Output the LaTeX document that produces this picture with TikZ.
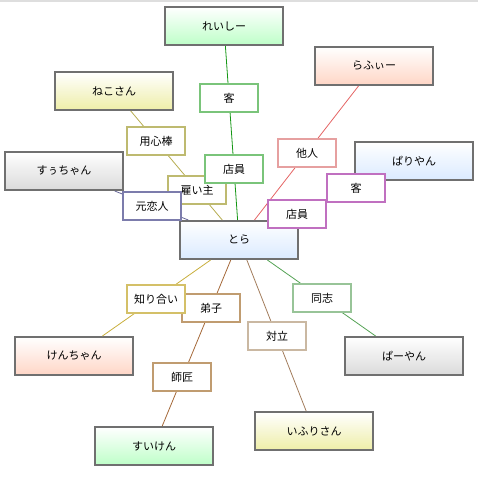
\documentclass[tikz,border=0pt]{standalone}
\usepackage{fontspec}
\setmainfont{Noto Sans CJK JP}
\usepackage{tikz}
\definecolor{BoxGray}{RGB}{112,112,112}
\definecolor{TopGray}{RGB}{222,222,222}
\definecolor{ShGreen}{RGB}{190,255,200}
\definecolor{ShPeach}{RGB}{255,214,198}
\definecolor{ShYellow}{RGB}{238,238,168}
\definecolor{ShGray}{RGB}{218,218,218}
\definecolor{ShBlue}{RGB}{218,234,255}
\definecolor{RelGreen}{RGB}{122,196,122}
\definecolor{RelOlive}{RGB}{190,186,112}
\definecolor{RelViolet}{RGB}{124,124,172}
\definecolor{RelRose}{RGB}{230,160,160}
\definecolor{RelMagenta}{RGB}{192,112,192}
\definecolor{RelGold}{RGB}{212,192,104}
\definecolor{RelBrown}{RGB}{192,156,112}
\definecolor{RelTan}{RGB}{202,184,162}
\definecolor{RelSage}{RGB}{152,196,152}
\definecolor{LnGreen}{RGB}{20,150,20}
\definecolor{LnRed}{RGB}{228,100,100}
\definecolor{LnOlive}{RGB}{182,172,80}
\definecolor{LnViolet}{RGB}{100,100,150}
\definecolor{LnMagenta}{RGB}{180,80,180}
\definecolor{LnGold}{RGB}{200,174,60}
\definecolor{LnBrown}{RGB}{164,104,56}
\definecolor{LnTan}{RGB}{162,124,92}
\definecolor{LnSage}{RGB}{84,162,84}

\begin{document}
\begin{tikzpicture}[x=1pt, y=-1pt,
    every node/.style={font=\fontsize{11}{13}\selectfont},
    person/.style={rectangle, draw=BoxGray, line width=2pt, top color=white, bottom color=#1, minimum width=118pt, minimum height=38pt, inner sep=0pt},
    rel/.style={rectangle, draw=#1, fill=white, line width=1.6pt, minimum width=58pt, minimum height=28pt, inner sep=0pt},
    link/.style={draw=#1, line width=0.8pt}
]
\useasboundingbox (0,0) rectangle (478,478);
\draw[TopGray, line width=2pt] (0,1) -- (478,1);

% people
\node[person=ShGreen] (reishi) at (224,26) {れいしー};
\node[person=ShPeach] (rafy) at (374,66) {らふぃー};
\node[person=ShYellow] (neko) at (114,91) {ねこさん};
\node[person=ShGray] (suu) at (64,171) {すぅちゃん};
\node[person=ShBlue] (pari) at (414,161) {ぱりやん};
\node[person=ShBlue] (tora) at (239,240) {とら};
\node[person=ShPeach] (ken) at (74,356) {けんちゃん};
\node[person=ShGray] (paa) at (404,356) {ぱーやん};
\node[person=ShGreen] (suiken) at (154,446) {すいけん};
\node[person=ShYellow] (ifuri) at (314,431) {いふりさん};

% connectors
\draw[link=LnGreen] (reishi) -- (tora);
\draw[link=LnRed] (rafy) -- (tora);
\draw[link=LnOlive] (neko) -- (tora);
\draw[link=LnViolet] (suu) -- (tora);
\draw[link=LnMagenta] (pari) -- (tora);
\draw[link=LnGold] (ken) -- (tora);
\draw[link=LnBrown] (suiken) -- (tora);
\draw[link=LnTan] (ifuri) -- (tora);
\draw[link=LnSage] (paa) -- (tora);

% relations
\node[rel=RelGreen] (kyaku1) at (229,98) {客};
\node[rel=RelOlive] (youjin) at (156,141) {用心棒};
\node[rel=RelOlive] (yatoi) at (197,190) {雇い主};
\node[rel=RelViolet] (motokoi) at (152,206) {元恋人};
\node[rel=RelGreen] (tenin1) at (234,169) {店員};
\node[rel=RelRose] (tanin) at (307,153) {他人};
\node[rel=RelMagenta] (tenin2) at (297,214) {店員};
\node[rel=RelMagenta] (kyaku2) at (356,188) {客};
\node[rel=RelBrown] (deshi) at (211,308) {弟子};
\node[rel=RelGold] (shiriai) at (156,299) {知り合い};
\node[rel=RelBrown] (shishou) at (182,377) {師匠};
\node[rel=RelTan] (tairitsu) at (277,336) {対立};
\node[rel=RelSage] (doushi) at (322,298) {同志};
\end{tikzpicture}
\end{document}
